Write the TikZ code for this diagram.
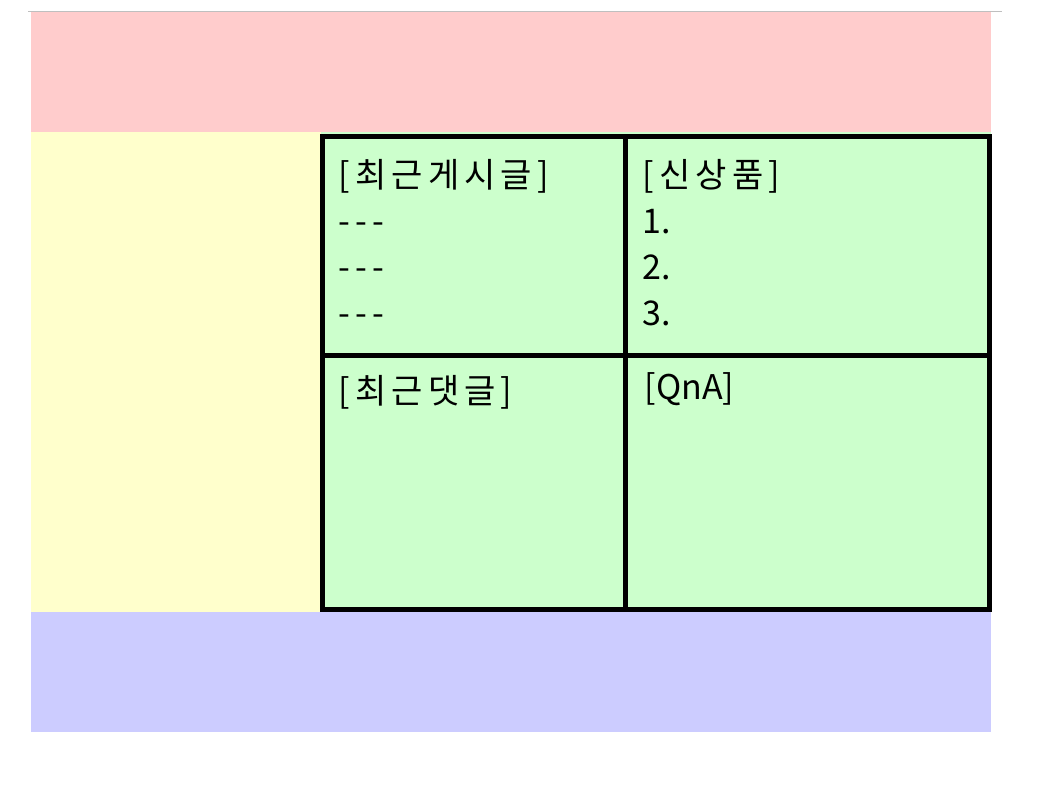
\documentclass[tikz,border=0pt]{standalone}
\usepackage{fontspec}
\newfontfamily\krfont[Ligatures=TeXOff]{Noto Sans CJK KR}
\newfontfamily\krwidefont[Ligatures=TeXOff, LetterSpace=15]{Noto Sans CJK KR}
\tikzset{
area/.style={draw=none, inner sep=0pt, outer sep=0pt, anchor=north west},
cell/.style={draw, line width=5pt, fill=green!20, inner sep=0pt, outer sep=0pt, anchor=north west},
celltext/.style={inner sep=0pt, anchor=base west, align=left, text width=300pt,
  font=\krfont\fontsize{34}{46}\selectfont}
}
\definecolor{headred}{HTML}{FFCCCC}
\definecolor{sideyellow}{HTML}{FFFFCC}
\definecolor{mainbg}{HTML}{CCFFCC}
\definecolor{footblue}{HTML}{CCCCFF}

\begin{document}
\begin{tikzpicture}[x=1pt, y=-1pt]

  \useasboundingbox (0,0) rectangle (1054,791);

  \draw [line width=1pt, color=black!25] (28,11.5) -- (1002,11.5);

  \node (header) [area, fill=headred, minimum width=960pt, minimum height=120pt] at (31,12) {};
  \node (side) [area, fill=sideyellow, minimum width=290pt, minimum height=480pt] at (header.south west) {};
  \node (main) [area, fill=mainbg, minimum width=670pt, minimum height=480pt] at (side.north east) {};
  \node (footer) [area, fill=footblue, minimum width=960pt, minimum height=120pt] at (side.south west) {};

  \node (posts) [cell, fill=mainbg, minimum width=303pt, minimum height=219pt] at (322.5,136.5) {};
  \node (goods) [cell, fill=mainbg, minimum width=364pt, minimum height=219pt] at (posts.north east) {};
  \node (replies) [cell, fill=mainbg, minimum width=303pt, minimum height=254pt] at (posts.south west) {};
  \node (qna) [cell, fill=mainbg, minimum width=364pt, minimum height=254pt] at (goods.south west) {};

  \node (poststext) [celltext, font=\krwidefont\fontsize{34}{46}\selectfont] at ([xshift=16pt, yshift=-51pt]posts.north west) {[최근게시글]\\---\\---\\---};
  \node (goodstext) [celltext] at ([xshift=17pt, yshift=-51pt]goods.north west) {{\krwidefont [신상품]}\\1.\\2.\\3.};
  \node (repliestext) [celltext, font=\krwidefont\fontsize{34}{46}\selectfont] at ([xshift=16pt, yshift=-48pt]replies.north west) {[최근댓글]};
  \node (qnatext) [celltext] at ([xshift=19pt, yshift=-44pt]qna.north west) {[QnA]};

\end{tikzpicture}
\end{document}
